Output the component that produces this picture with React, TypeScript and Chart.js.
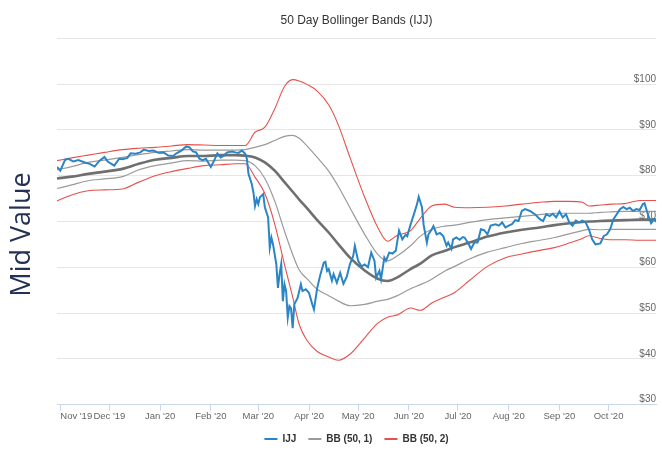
import React, { useEffect, useRef } from 'react';
import { Chart, registerables } from 'chart.js';

Chart.register(...registerables);

// x values are calendar days counted from 1 Nov 2019
const monthTickDays = [0, 30, 61, 92, 121, 152, 182, 213, 243, 274, 305, 335];
const monthTickLabels = ["Nov '19", "Dec '19", "Jan '20", "Feb '20", "Mar '20", "Apr '20", "May '20", "Jun '20", "Jul '20", "Aug '20", "Sep '20", "Oct '20"];
const xMinDay = -2;
const xMaxDay = 364;

const yMin = 30;
const yMax = 110;
const yStep = 10;

const priceDays = [
  -2, 0, 3, 5, 8, 11, 15, 18, 21, 24, 27, 29, 33, 36, 38, 41, 43, 46, 49, 51,
  54, 57, 60, 63, 66, 69, 71, 74, 77, 79, 81, 83, 85, 87, 89, 92, 94, 96, 98, 100,
  102, 105, 107, 109, 111, 113, 114, 115, 117, 118, 119, 120, 121, 122, 124, 125, 127, 128, 129, 130,
  132, 133, 134, 135, 136, 137, 138, 139, 140, 141, 142, 143, 145, 147, 148, 150, 152, 154, 155, 157,
  159, 161, 162, 163, 164, 166, 167, 169, 171, 173, 175, 177, 179, 180, 182, 184, 186, 188, 190, 192,
  193, 195, 196, 198, 199, 201, 203, 205, 207, 209, 211, 212, 214, 216, 218, 219, 221, 222, 224, 225,
  227, 228, 230, 232, 234, 236, 237, 239, 240, 242, 244, 246, 247, 249, 251, 253, 255, 257, 259, 261,
  263, 266, 268, 270, 272, 274, 276, 278, 280, 282, 284, 287, 290, 293, 295, 297, 299, 301, 303, 305,
  307, 309, 311, 313, 315, 317, 319, 321, 323, 325, 327, 330, 332, 334, 336, 338, 340, 342, 344, 346,
  348, 350, 352, 354, 356, 357, 359, 361, 363, 364,
];
const priceValues = [
  81.9, 81.1, 83.5, 83.7, 83.1, 83.4, 82.9, 82.6, 82.0, 83.3, 84.1, 83.1, 82.2, 83.7, 83.6, 83.9, 84.9, 84.8, 85.1, 85.7,
  85.4, 85.5, 85.0, 85.1, 84.4, 84.3, 84.9, 85.5, 86.4, 86.2, 85.3, 85.1, 83.7, 83.4, 83.7, 81.9, 83.3, 84.9, 84.0, 84.4,
  85.1, 85.3, 85.1, 85.0, 85.5, 84.8, 83.7, 80.4, 78.2, 76.4, 73.4, 74.9, 73.8, 75.3, 76.0, 73.1, 70.9, 64.3, 66.5, 65.0,
  60.7, 55.5, 58.5, 60.7, 52.6, 56.3, 54.8, 49.0, 51.5, 51.0, 46.7, 51.9, 53.3, 56.3, 54.8, 55.2, 54.4, 51.9, 50.8, 55.5,
  58.5, 61.0, 61.2, 59.2, 59.6, 57.1, 58.5, 56.6, 58.8, 56.4, 57.9, 60.7, 62.5, 64.7, 61.4, 60.2, 60.6, 60.0, 63.2, 61.4,
  57.7, 59.2, 57.4, 62.1, 61.4, 63.2, 63.0, 63.6, 68.0, 66.1, 67.1, 66.8, 69.3, 71.5, 73.8, 75.4, 73.1, 69.3, 65.4, 67.2,
  68.3, 69.0, 67.2, 67.5, 66.8, 64.7, 65.4, 64.0, 66.1, 66.5, 66.0, 66.6, 66.5, 65.4, 64.0, 65.4, 65.4, 68.3, 68.1, 67.2,
  69.1, 69.4, 69.1, 69.8, 68.7, 69.1, 69.4, 70.3, 70.1, 72.3, 72.7, 72.3, 71.6, 70.5, 70.1, 71.6, 71.2, 71.7, 70.9, 72.2,
  70.9, 71.6, 69.8, 69.1, 70.2, 69.8, 70.2, 69.8, 68.3, 66.1, 65.0, 65.2, 66.8, 67.2, 68.3, 70.5, 71.6, 72.7, 73.2, 72.7,
  73.0, 72.3, 72.7, 72.5, 73.8, 74.0, 71.6, 69.6, 70.5, 69.9,
];

const bandDays = [
  -2, 7, 17, 27, 38, 48, 58, 68, 78, 88,
  98, 107, 113, 119, 125, 131, 137, 142, 146, 151,
  157, 164, 170, 177, 186, 194, 200, 206, 214, 220,
  227, 235, 241, 250, 261, 272, 282, 293, 302, 311,
  319, 323, 330, 337, 345, 354, 364,
];
const bb2Upper = [
  83.3, 83.9, 84.5, 85.1, 85.7, 86.0, 86.2, 86.5, 86.8, 86.7,
  86.6, 86.6, 86.6, 89.5, 90.6, 94.6, 99.5, 101.0, 100.7, 99.9,
  98.5, 95.5, 91.0, 84.0, 75.3, 68.7, 65.7, 67.0, 68.0, 70.7,
  73.4, 73.8, 73.1, 73.0, 73.1, 73.4, 73.8, 74.2, 74.4, 74.4,
  74.2, 73.4, 73.6, 73.8, 73.9, 74.6, 74.6,
];
const bb1Upper = [
  81.3, 82.0, 82.9, 83.4, 84.0, 84.6, 85.1, 85.4, 85.7, 85.6,
  85.6, 85.6, 85.7, 86.2, 86.8, 87.7, 88.6, 88.8, 88.2, 86.4,
  84.0, 81.0, 77.6, 73.0, 67.2, 62.8, 61.4, 62.5, 64.7, 66.8,
  68.3, 69.0, 69.2, 69.8, 70.4, 70.8, 71.1, 71.5, 71.8, 71.8,
  71.8, 71.8, 72.0, 72.1, 72.2, 72.2, 72.2,
];
const bbMiddle = [
  79.4, 79.8, 80.4, 80.9, 81.5, 82.6, 83.5, 83.9, 84.3, 84.3,
  84.5, 84.5, 84.4, 84.0, 82.9, 81.1, 78.6, 76.5, 74.8, 72.8,
  70.3, 67.6, 65.0, 62.1, 59.3, 57.5, 57.0, 57.8, 59.6, 60.8,
  62.6, 63.6, 64.4, 65.4, 66.7, 67.6, 68.2, 68.7, 69.2, 69.6,
  69.9, 70.0, 70.1, 70.2, 70.3, 70.4, 70.4,
];
const bb1Lower = [
  77.2, 78.0, 78.9, 79.3, 79.8, 81.3, 82.2, 82.8, 83.3, 83.2,
  83.4, 83.4, 83.3, 82.2, 79.4, 74.5, 67.9, 62.8, 59.4, 57.4,
  55.2, 53.8, 52.6, 51.6, 51.9, 52.6, 53.0, 53.8, 55.3, 56.2,
  57.4, 59.2, 60.2, 61.8, 63.3, 64.3, 65.2, 65.9, 66.5, 67.3,
  68.0, 68.3, 68.2, 68.3, 68.3, 68.3, 68.3,
];
const bb2Lower = [
  74.5, 75.8, 76.7, 76.9, 77.1, 78.6, 80.0, 80.9, 81.6, 82.2,
  82.4, 82.6, 82.6, 79.7, 76.1, 69.5, 60.6, 53.5, 47.5, 43.9,
  41.6, 40.4, 39.7, 41.0, 44.6, 47.8, 49.1, 49.6, 51.1, 50.6,
  52.2, 53.5, 54.5, 57.1, 60.2, 62.1, 62.9, 63.7, 64.3, 65.3,
  66.3, 66.9, 66.3, 66.0, 66.0, 65.9, 65.9,
];

const chartTitle = '50 Day Bollinger Bands (IJJ)';
const yAxisTitle = 'Mid Value';
const legendIndices = [0, 1, 4];

const FONT = '"Liberation Sans", Arial, sans-serif';
const BLUE = '#2b84c4';
const GRAY = '#9a9a9a';
const DARK_GRAY = '#6f6f6f';
const RED = '#e5524d';

const toPoints = (days: number[], values: number[]) => days.map((d, i) => ({ x: d, y: values[i] }));

const yTitlePlugin = {
  id: 'yTitleText',
  afterDraw(chart: any) {
    const { ctx, chartArea } = chart;
    ctx.save();
    ctx.translate(chartArea.left - 35, (chartArea.top + chartArea.bottom) / 2 + 13);
    ctx.rotate(-Math.PI / 2);
    ctx.font = '27px "Open Sans", sans-serif';
    ctx.fillStyle = '#233252';
    ctx.textAlign = 'center';
    ctx.textBaseline = 'middle';
    ctx.fillText(yAxisTitle, 0, 0);
    ctx.restore();
  },
};

export default function App() {
  const canvasRef = useRef<HTMLCanvasElement | null>(null);

  useEffect(() => {
    if (!canvasRef.current) return;
    const bandLine = (label: string, values: number[], color: string, width: number) => ({
      label,
      data: toPoints(bandDays, values),
      borderColor: color,
      backgroundColor: color,
      borderWidth: width,
      pointRadius: 0,
      cubicInterpolationMode: 'monotone' as const,
      fill: false,
    });
    const chart = new Chart(canvasRef.current, {
      type: 'line',
      data: {
        datasets: [
          {
            label: 'IJJ',
            data: toPoints(priceDays, priceValues),
            borderColor: BLUE,
            backgroundColor: BLUE,
            borderWidth: 2,
            pointRadius: 0,
            tension: 0,
            fill: false,
          },
          bandLine('BB (50, 1)', bb1Upper, GRAY, 1.2),
          bandLine('BB (50, 1) middle', bbMiddle, DARK_GRAY, 2.6),
          bandLine('BB (50, 1) lower', bb1Lower, GRAY, 1.2),
          bandLine('BB (50, 2)', bb2Upper, RED, 1.1),
          bandLine('BB (50, 2) lower', bb2Lower, RED, 1.1),
        ],
      },
      options: {
        responsive: false,
        animation: false,
        devicePixelRatio: 1,
        layout: { padding: { left: 57, right: 6, top: 0, bottom: 0 } },
        scales: {
          x: {
            type: 'linear',
            min: xMinDay,
            max: xMaxDay,
            afterBuildTicks: (scale: any) => {
              scale.ticks = [...monthTickDays, xMaxDay].map((v) => ({ value: v }));
            },
            ticks: {
              autoSkip: false,
              maxRotation: 0,
              align: 'inner',
              padding: 0,
              color: '#666666',
              font: { size: 9.5, family: FONT },
              callback: (_v: any, i: number) => monthTickLabels[i] ?? '',
            },
            grid: {
              display: true,
              drawOnChartArea: false,
              drawTicks: true,
              tickLength: 6,
              tickColor: (ctx: any) => (ctx.index >= monthTickDays.length ? 'rgba(0,0,0,0)' : '#ccd6eb'),
              color: '#ccd6eb',
            },
            border: { display: true, color: '#ccd6eb', width: 1 },
          },
          y: {
            position: 'right',
            min: yMin,
            max: yMax,
            ticks: {
              stepSize: yStep,
              mirror: true,
              padding: 0,
              labelOffset: -5,
              color: '#666666',
              font: { size: 10, family: FONT },
              callback: (v: any) => (v === yMax ? '' : '$' + v),
            },
            grid: { color: '#e6e6e6', drawTicks: false, lineWidth: 1 },
            border: { display: false },
          },
        },
        plugins: {
          title: {
            display: true,
            text: chartTitle,
            fullSize: false,
            color: '#333333',
            font: { size: 12, weight: 'normal', family: FONT },
            padding: { top: 13, bottom: 11 },
          },
          legend: {
            display: true,
            position: 'bottom',
            fullSize: false,
            align: 'center',
            maxHeight: 29,
            labels: {
              boxWidth: 13,
              boxHeight: 2,
              padding: 12,
              color: '#333333',
              font: { size: 10, weight: 'bold', family: FONT },
              filter: (item: any) => legendIndices.includes(item.datasetIndex),
              generateLabels: (c: any) =>
                (Chart.defaults.plugins.legend.labels.generateLabels as any)(c).map((l: any) => ({
                  ...l,
                  lineWidth: 0,
                  fillStyle: l.strokeStyle,
                })),
            },
          },
          tooltip: { enabled: false },
        },
      },
      plugins: [yTitlePlugin],
    } as any);
    return () => chart.destroy();
  }, []);

  return (
    <div style={{ position: 'absolute', left: 0, top: 0, width: 662, height: 451, background: '#ffffff' }}>
      <canvas ref={canvasRef} width={662} height={451} style={{ display: 'block' }} />
    </div>
  );
}
